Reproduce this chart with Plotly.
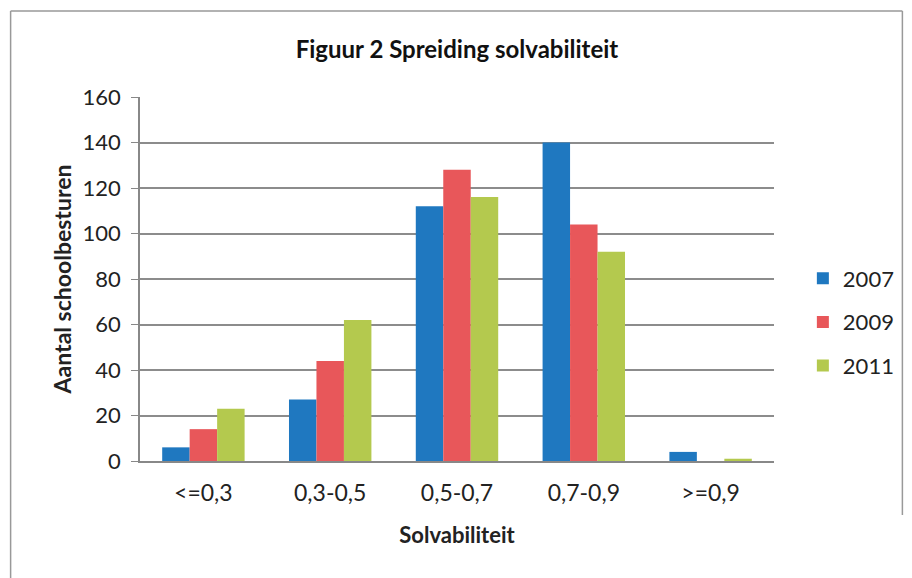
import plotly.graph_objects as go

categories = ["<=0,3", "0,3-0,5", "0,5-0,7", "0,7-0,9", ">=0,9"]
years = ["2007", "2009", "2011"]
values_2007 = [6, 27, 112, 140, 4]
values_2009 = [14, 44, 128, 104, 0]
values_2011 = [23, 62, 116, 92, 1]
colors = ["#1f78c0", "#e8575a", "#b4c94e"]

series = [values_2007, values_2009, values_2011]

fig = go.Figure()
for name, vals, col in zip(years, series, colors):
    fig.add_trace(go.Bar(
        x=categories, y=vals, name=name, legendgroup=name,
        marker=dict(color=col, line=dict(width=0)),
    ))

font_family = "Lato, 'Open Sans', sans-serif"

W, H = 912, 578
L, T, PW, PH = 140, 97, 637, 364


def px_x(px):
    return (px - L) / PW


def px_y(py):
    return (T + PH - py) / PH


fig.update_layout(
    width=W, height=H,
    margin=dict(l=L, r=W - L - PW, t=T, b=H - T - PH),
    paper_bgcolor="white", plot_bgcolor="white",
    barmode="group", bargap=0.35, bargroupgap=0,
    font=dict(family=font_family, size=21, color="#222222"),
    title=dict(text="<b>Figuur 2 Spreiding solvabiliteit</b>",
               x=0.5, xref="paper", y=1 - 50 / H, yanchor="middle",
               font=dict(size=24, color="#111111")),
    legend=dict(x=px_x(806), xanchor="left", y=px_y(322), yanchor="middle",
                font=dict(size=22), tracegroupgap=12,
                itemwidth=30, bgcolor="rgba(0,0,0,0)"),
    showlegend=True,
)
fig.update_xaxes(
    showline=True, linecolor="#888888", linewidth=1.5,
    ticks="", tickfont=dict(size=23), ticklabelstandoff=11,
    title=dict(text="<b>Solvabiliteit</b>", font=dict(size=22), standoff=22),
)
fig.update_yaxes(
    range=[0, 160], dtick=20,
    showline=True, linecolor="#888888", linewidth=1.5,
    showgrid=True, gridcolor="#8c8c8c", gridwidth=1.5,
    ticks="outside", ticklen=7, tickcolor="#888888",
    tickfont=dict(size=22), ticklabelstandoff=6,
    title=dict(text="<b>Aantal schoolbesturen</b>", font=dict(size=23), standoff=5),
    zeroline=False,
)
# chart frame (left, top, right edges)
frame = dict(type="line", xref="paper", yref="paper",
             line=dict(color="#999999", width=1.5), layer="below")
fig.add_shape(x0=px_x(10), x1=px_x(10), y0=px_y(11), y1=px_y(578), **frame)
fig.add_shape(x0=px_x(10), x1=px_x(906), y0=px_y(11), y1=px_y(11), **frame)
fig.add_shape(x0=px_x(906), x1=px_x(906), y0=px_y(11), y1=px_y(515), **frame)

fig.write_html(
    "out.html",
    config={"displayModeBar": False},
    post_script="document.body.style.margin='0';document.body.style.overflow='hidden';",
)
